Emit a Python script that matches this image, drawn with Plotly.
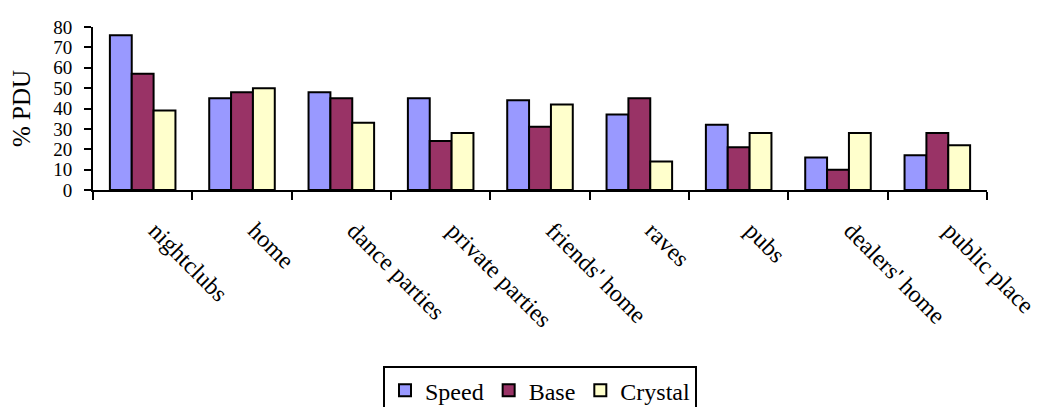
import plotly.graph_objects as go

categories = ["nightclubs", "home", "dance parties", "private parties", "friends' home",
              "raves", "pubs", "dealers' home", "public place"]
speed = [76, 45, 48, 45, 44, 37, 32, 16, 17]
base = [57, 48, 45, 24, 31, 45, 21, 10, 28]
crystal = [39, 50, 33, 28, 42, 14, 28, 28, 22]
y_ticks = [0, 10, 20, 30, 40, 50, 60, 70, 80]

FONT = "Liberation Serif"
fig = go.Figure()
for name, vals, col in [("Speed", speed, "#9999FF"), ("Base", base, "#993366"),
                        ("Crystal", crystal, "#FFFFCC")]:
    fig.add_trace(go.Bar(x=categories, y=vals, name=name,
                         marker=dict(color=col, line=dict(color="black", width=2))))

# page body has an 8px default margin, so the figure is offset by 8px
fig.update_layout(
    width=1031, height=399,
    margin=dict(l=85, r=52, t=19, b=217, autoexpand=False),
    barmode="group", bargap=0.34, bargroupgap=0,
    plot_bgcolor="white", paper_bgcolor="white",
    font=dict(family=FONT, size=20, color="black"),
    showlegend=True,
    legend=dict(orientation="h", x=0.5, xanchor="center", y=-1.08, yanchor="top",
                bordercolor="black", borderwidth=2, font=dict(size=24, family=FONT),
                itemwidth=30, traceorder="normal"),
)
fig.update_xaxes(showline=True, linecolor="black", linewidth=2, ticks="outside",
                 tickson="boundaries", ticklen=8, tickwidth=2, tickcolor="black",
                 tickangle=45, ticklabelstandoff=15, ticklabelshift=13,
                 showgrid=False, automargin=False,
                 tickfont=dict(size=24, family=FONT))
fig.update_yaxes(range=[0, 80], tickvals=y_ticks, showline=True, linecolor="black",
                 linewidth=2, ticks="outside", ticklen=7, tickwidth=2, tickcolor="black",
                 ticklabelstandoff=8,
                 showgrid=False, zeroline=False, automargin=False,
                 tickfont=dict(size=19, family=FONT),
                 title=dict(text="% PDU", font=dict(size=25, family=FONT), standoff=18))
fig.write_html("out.html")
